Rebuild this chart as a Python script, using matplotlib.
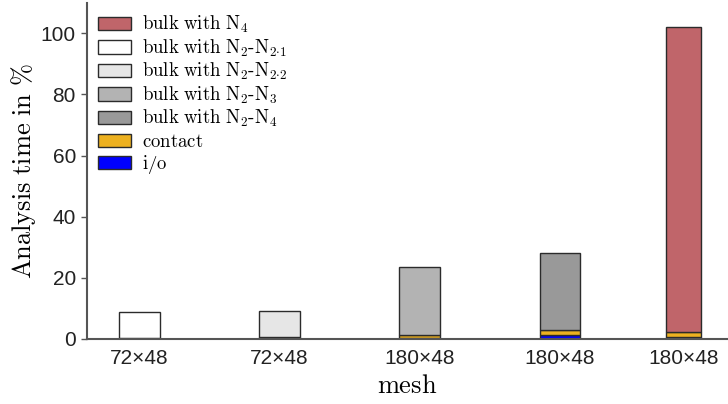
import matplotlib
matplotlib.use("Agg")
import matplotlib.pyplot as plt
import numpy as np

plt.rcParams["mathtext.fontset"] = "cm"

# mesh per run and where each bar sits on the x axis
meshes = ["72×48", "72×48", "180×48", "180×48", "180×48"]
xpos = [1.0, 2.0, 3.0, 4.0, 4.88]
widths = [0.29, 0.29, 0.29, 0.29, 0.25]

# analysis time shares in %
io_time = [0.15, 0.15, 0.3, 1.3, 0.65]
contact_time = [0.15, 0.4, 1.0, 1.5, 1.75]
bulk_time = [8.6, 8.65, 22.3, 25.4, 99.7]

bulk_labels = [
    r"$\mathrm{bulk\ with\ N_2\text{-}N_{2{\cdot}1}}$",
    r"$\mathrm{bulk\ with\ N_2\text{-}N_{2{\cdot}2}}$",
    r"$\mathrm{bulk\ with\ N_2\text{-}N_3}$",
    r"$\mathrm{bulk\ with\ N_2\text{-}N_4}$",
    r"$\mathrm{bulk\ with\ N_4}$",
]
bulk_colors = ["#ffffff", "#e6e6e6", "#b3b3b3", "#999999", "#c0656a"]
contact_color = "#edb120"
io_color = "#0000ff"
edge = "#2b2b2b"

fig = plt.figure(figsize=(7.28, 4.04), dpi=100)
ax = fig.add_axes([0.1195, 0.161, 0.8805, 0.832])

handles = {}
for i in range(len(xpos)):
    b_io = ax.bar(xpos[i], io_time[i], widths[i], color=io_color, edgecolor=edge, linewidth=1)
    b_ct = ax.bar(xpos[i], contact_time[i], widths[i], bottom=io_time[i],
                  color=contact_color, edgecolor=edge, linewidth=1)
    b_bk = ax.bar(xpos[i], bulk_time[i], widths[i], bottom=io_time[i] + contact_time[i],
                  color=bulk_colors[i], edgecolor=edge, linewidth=1)
    handles[bulk_labels[i]] = b_bk
handles[r"$\mathrm{contact}$"] = b_ct
handles[r"$\mathrm{i/o}$"] = b_io

order = [bulk_labels[4]] + bulk_labels[:4] + [r"$\mathrm{contact}$", r"$\mathrm{i/o}$"]
ax.legend([handles[k] for k in order], order, loc="upper left", frameon=False,
          fontsize=13.5, handlelength=1.75, handleheight=0.7, labelspacing=0.12,
          handletextpad=0.6, borderaxespad=0.2, bbox_to_anchor=(0.0, 1.0))

ax.set_xlim(0.625, 5.2)
ax.set_ylim(0, 110)
ax.set_xticks(xpos)
ax.set_xticklabels(meshes, family="Liberation Sans")
ax.set_yticks(np.arange(0, 101, 20))
ax.set_yticklabels([str(v) for v in range(0, 101, 20)], family="Liberation Sans")
ax.tick_params(axis="both", labelsize=15, colors="#222222")
ax.tick_params(axis="x", length=0, pad=7)
ax.tick_params(axis="y", length=4, direction="out", width=1, color="#555555", pad=4)

ax.set_xlabel(r"$\mathrm{mesh}$", fontsize=19, labelpad=4)
ax.set_ylabel(r"$\mathrm{Analysis\ time\ in\ \%}$", fontsize=19, labelpad=2)

for side in ["top", "right"]:
    ax.spines[side].set_visible(False)
for side in ["left", "bottom"]:
    ax.spines[side].set_color("#555555")
    ax.spines[side].set_linewidth(1.5)

fig.savefig("out.png", dpi=100)
